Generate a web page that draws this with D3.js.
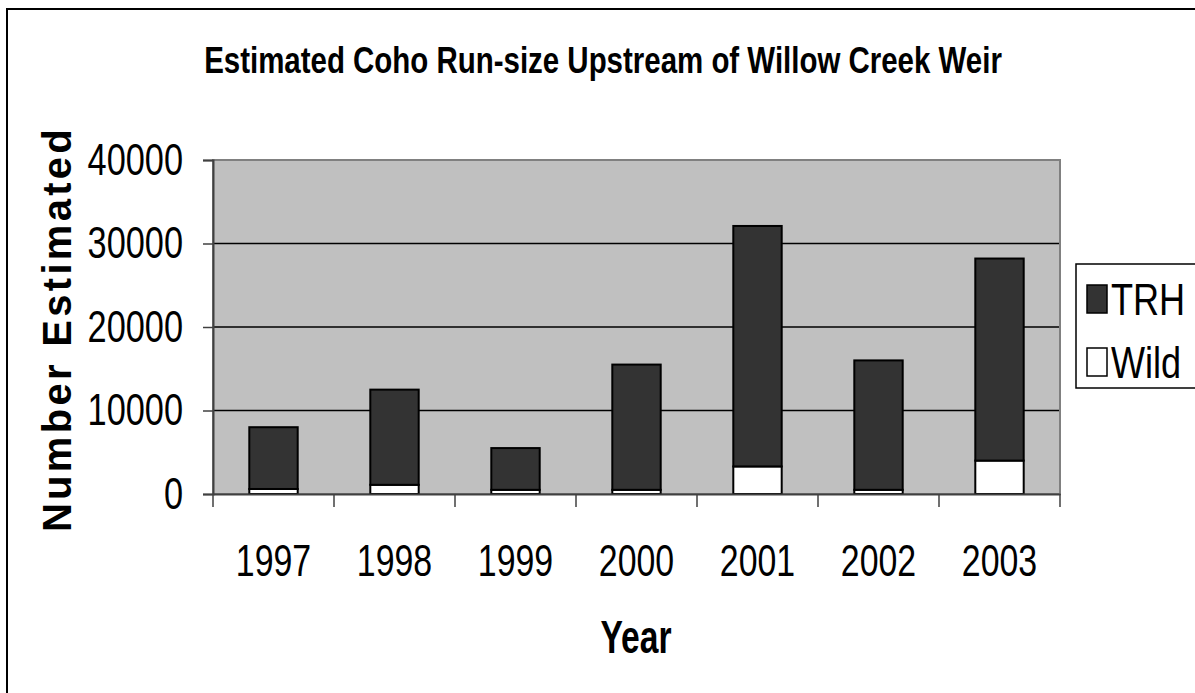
<!DOCTYPE html>
<html>
<head>
<meta charset="utf-8">
<script src="https://cdn.jsdelivr.net/npm/d3@7"></script>
<style>
  body { margin: 0; background: #fff; }
  svg { display: block; }
  text { font-family: "Liberation Sans", Arial, sans-serif; }
</style>
</head>
<body>
<svg id="chart" width="1195" height="693"></svg>
<script>

var years = ["1997", "1998", "1999", "2000", "2001", "2002", "2003"];
var wild = [600, 1100, 500, 500, 3300, 500, 4000];
var trh = [7400, 11400, 5000, 15000, 28800, 15500, 24200];
var yTicks = [0, 10000, 20000, 30000, 40000];
var seriesNames = ["Wild", "TRH"];
var seriesColours = { TRH: "#333333", Wild: "#ffffff" };

var margin = { top: 160, right: 135, bottom: 199, left: 213 },
    width = 1195 - margin.left - margin.right,
    height = 693 - margin.top - margin.bottom;

// no Arial Narrow here, so squeeze the regular face horizontally
function narrow(sel, factor) {
  sel.each(function() {
    var len = this.getComputedTextLength();
    d3.select(this)
      .attr("textLength", len * factor)
      .attr("lengthAdjust", "spacingAndGlyphs");
  });
}

var svg = d3.select("#chart");

// outer chart border (runs off the right/bottom edge like the original)
svg.append("rect")
    .attr("x", 7).attr("y", 9)
    .attr("width", 1300).attr("height", 800)
    .attr("fill", "#fff")
    .attr("stroke", "#000").attr("stroke-width", 2);

var rows = years.map(function(y, i) { return { year: y, Wild: wild[i], TRH: trh[i] }; });
var stacked = d3.stack().keys(seriesNames)(rows);

var x = d3.scaleBand().domain(years).range([0, width]).paddingInner(0).paddingOuter(0);
var y = d3.scaleLinear().domain([0, 40000]).range([height, 0]);

var g = svg.append("g").attr("transform", "translate(" + margin.left + "," + margin.top + ")");

g.append("rect")
    .attr("width", width).attr("height", height)
    .attr("fill", "#c0c0c0");

g.selectAll(".grid").data(yTicks.filter(function(d) { return d > 0 && d < 40000; }))
  .enter().append("line")
    .attr("x1", 0).attr("x2", width)
    .attr("y1", function(d) { return y(d); })
    .attr("y2", function(d) { return y(d); })
    .attr("stroke", "#000").attr("stroke-width", 1.5);

g.append("rect")
    .attr("width", width).attr("height", height)
    .attr("fill", "none")
    .attr("stroke", "#808080").attr("stroke-width", 2);

// bars
var barW = x.bandwidth() * 0.4;
g.selectAll(".series").data(stacked)
  .enter().append("g")
    .attr("fill", function(d) { return seriesColours[d.key]; })
  .selectAll("rect").data(function(d) { return d; })
  .enter().append("rect")
    .attr("x", function(d) { return x(d.data.year) + (x.bandwidth() - barW) / 2; })
    .attr("width", barW)
    .attr("y", function(d) { return y(d[1]); })
    .attr("height", function(d) { return y(d[0]) - y(d[1]); })
    .attr("stroke", "#000").attr("stroke-width", 2);

// y axis
var yAxis = g.append("g")
    .call(d3.axisLeft(y).tickValues(yTicks).tickSize(10).tickPadding(20).tickFormat(d3.format("d")));
yAxis.select(".domain").attr("stroke", "#404040").attr("stroke-width", 2);
yAxis.selectAll(".tick line").attr("stroke", "#404040").attr("stroke-width", 1.5);
yAxis.selectAll("text")
    .attr("font-family", "Liberation Sans, Arial, sans-serif")
    .attr("font-size", 44)
    .attr("fill", "#000")
    .call(narrow, 0.78);

// x axis: labels centred in bands, ticks at band boundaries
var xAxis = g.append("g")
    .attr("transform", "translate(0," + height + ")")
    .call(d3.axisBottom(x).tickSize(0).tickPadding(51));
xAxis.select(".domain").attr("stroke", "#404040").attr("stroke-width", 2);
xAxis.selectAll("text")
    .attr("font-family", "Liberation Sans, Arial, sans-serif")
    .attr("font-size", 44)
    .attr("fill", "#000")
    .call(narrow, 0.77);
xAxis.selectAll(".bound").data(years.concat(["end"]))
  .enter().append("line")
    .attr("x1", function(d) { return d === "end" ? width : x(d); })
    .attr("x2", function(d) { return d === "end" ? width : x(d); })
    .attr("y1", 0).attr("y2", 13)
    .attr("stroke", "#404040").attr("stroke-width", 1.5);

// title
svg.append("text")
    .attr("x", 603).attr("y", 73)
    .attr("text-anchor", "middle")
    .attr("font-size", 36).attr("font-weight", "bold")
    .text("Estimated Coho Run-size Upstream of Willow Creek Weir")
    .call(narrow, 0.818);

// axis titles
svg.append("text")
    .attr("x", 636).attr("y", 653)
    .attr("text-anchor", "middle")
    .attr("font-size", 46).attr("font-weight", "bold")
    .text("Year")
    .call(narrow, 0.73);

svg.append("text")
    .attr("transform", "translate(71," + (margin.top + height / 2 + 2) + ") rotate(-90)")
    .attr("text-anchor", "middle")
    .attr("font-size", 40).attr("font-weight", "bold")
    .attr("letter-spacing", 3.3)
    .text("Number Estimated");

// legend
var legend = svg.append("g").attr("transform", "translate(1076,264)");
legend.append("rect")
    .attr("width", 140).attr("height", 124)
    .attr("fill", "#fff").attr("stroke", "#000").attr("stroke-width", 1.5);
var items = legend.selectAll(".item").data(["TRH", "Wild"])
  .enter().append("g")
    .attr("transform", function(d, i) { return "translate(11," + (21 + i * 63) + ")"; });
items.append("rect")
    .attr("width", 20).attr("height", 28)
    .attr("fill", function(d) { return seriesColours[d]; })
    .attr("stroke", "#000").attr("stroke-width", 1.5);
items.append("text")
    .attr("x", 24).attr("y", 30)
    .attr("font-size", 44)
    .text(function(d) { return d; })
    .call(narrow, 0.82);

</script>
</body>
</html>
